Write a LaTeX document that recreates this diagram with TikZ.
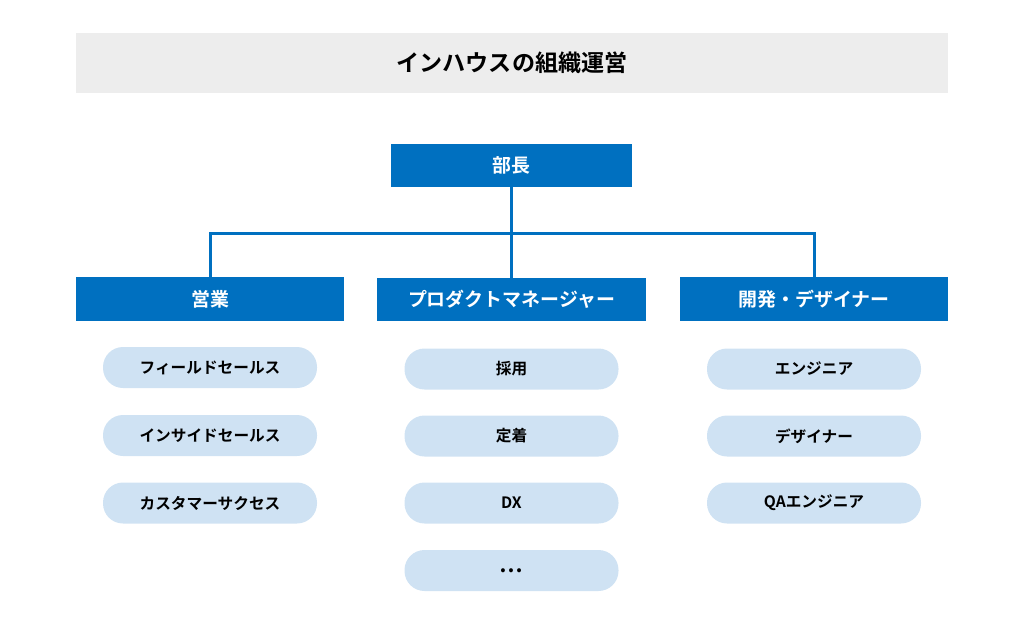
\documentclass[tikz,border=0pt]{standalone}
\usepackage{fontspec}
\setmainfont{Noto Sans CJK JP}[BoldFont={Noto Sans CJK JP Bold}]
\usepackage{xcolor}
\usepackage{tikz}

\definecolor{orgblue}{RGB}{0,112,192}
\definecolor{pillblue}{RGB}{207,226,243}
\definecolor{bandgray}{RGB}{237,237,237}

\tikzset{
  headbox/.style={fill=orgblue, text=white, font=\bfseries\fontsize{14.2}{17}\selectfont, inner sep=0pt},
  pill/.style={fill=pillblue, rounded corners=15pt, minimum width=160.5pt, minimum height=30.75pt, inner sep=0pt, font=\bfseries\fontsize{11.75}{14}\selectfont},
  link/.style={draw=orgblue, line width=2.25pt}
}

\begin{document}
\begin{tikzpicture}[x=0.75pt,y=0.75pt,yscale=-1,xscale=1]
	\useasboundingbox (0,0) rectangle (1024,642);

	%Shape: Rectangle (title band)
	\node [fill=bandgray, minimum width=654pt, minimum height=45pt, inner sep=0pt, font=\bfseries\fontsize{17.3}{20}\selectfont] (title) at (512,63) {インハウスの組織運営};

	% Text Node
	\node [headbox, minimum width=180.75pt, minimum height=32.25pt] (boss) at (511.5,165.5) {部長};
	\node [headbox, minimum width=201pt, minimum height=33pt] (sales) at (210,299) {営業};
	\node [headbox, minimum width=201.75pt, minimum height=32.25pt] (pm) at (511.5,299.5) {プロダクトマネージャー};
	\node [headbox, minimum width=201pt, minimum height=33pt] (dev) at (814,299) {開発・デザイナー};

	%Straight Lines
	\coordinate (bus) at (512,233);
	\draw [link] (boss.south) -- (pm.north);
	\draw [link] (sales.north) |- (bus) -| (dev.north);

	% Text Node
	\node [pill] (field) at (210,367.5) {フィールドセールス};
	\node [pill] (inside) at (210,435.5) {インサイドセールス};
	\node [pill] (success) at (210,503) {カスタマーサクセス};

	\node [pill] (hire) at (511.5,369) {採用};
	\node [pill] (retain) at (511.5,436) {定着};
	\node [pill] (dx) at (511.5,503) {DX};
	\node [pill, font=\bfseries\fontsize{16}{18}\selectfont] (more) at (511.5,570.5) {…};

	\node [pill] (eng) at (814,369) {エンジニア};
	\node [pill] (design) at (814,436) {デザイナー};
	\node [pill] (qa) at (814,503) {QAエンジニア};
\end{tikzpicture}
\end{document}
